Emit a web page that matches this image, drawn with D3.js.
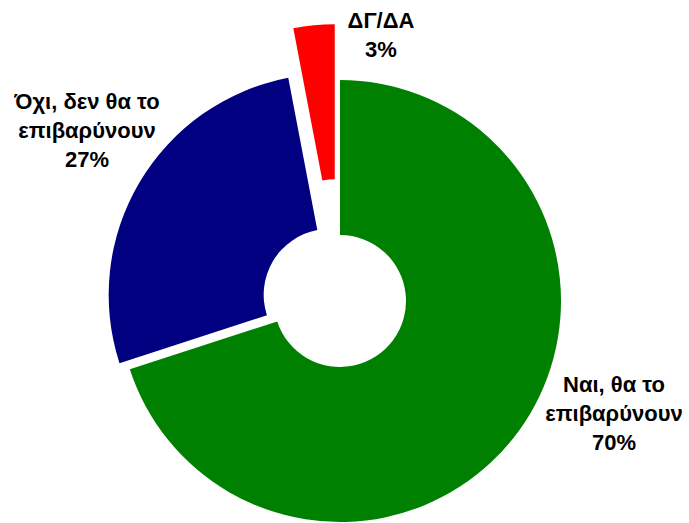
<!DOCTYPE html>
<html>
<head>
<meta charset="utf-8">
<script src="https://cdn.jsdelivr.net/npm/d3@7"></script>
<style>
  html, body { margin: 0; padding: 0; background: #fff; }
  svg { display: block; }
</style>
</head>
<body>
<svg id="chart" width="689" height="523"></svg>
<script>
// ---- data ----
const categories = ["Ναι, θα το επιβαρύνουν", "Όχι, δεν θα το επιβαρύνουν", "ΔΓ/ΔΑ"];
const labelLines = [["Ναι, θα το", "επιβαρύνουν"], ["Όχι, δεν θα το", "επιβαρύνουν"], ["ΔΓ/ΔΑ"]];
const values = [70, 27, 3];
const colors = ["#008000", "#000080", "#FF0000"];

// ---- layout (not data) ----
const W = 689, H = 523;
const cx = 340, cy = 301;
const outerR = 221, innerR = 66;
const explode = [0, 12, 56];
const labelPos = [[614, 392], [87, 109], [381, 28]];
const fontSize = 22, lineH = 29;

const svg = d3.select("#chart");
const g = svg.append("g").attr("transform", `translate(${cx},${cy})`);

const pie = d3.pie().sort(null).value(d => d).startAngle(0).endAngle(2 * Math.PI);
const arcs = pie(values);
const arc = d3.arc().innerRadius(innerR).outerRadius(outerR);

g.selectAll("path.slice")
  .data(arcs)
  .join("path")
  .attr("class", "slice")
  .attr("fill", (d, i) => colors[i])
  .attr("transform", (d, i) => {
    const a = (d.startAngle + d.endAngle) / 2;
    const dx = Math.sin(a) * explode[i];
    const dy = -Math.cos(a) * explode[i];
    return `translate(${dx},${dy})`;
  })
  .attr("d", arc);

const lbl = svg.selectAll("text.lbl")
  .data(arcs)
  .join("text")
  .attr("class", "lbl")
  .attr("text-anchor", "middle")
  .attr("font-family", "'Liberation Sans', Arial, sans-serif")
  .attr("font-weight", "bold")
  .attr("font-size", fontSize)
  .attr("fill", "#000");

lbl.each(function(d, i) {
  const t = d3.select(this);
  const lines = labelLines[i].concat([Math.round(d.value) + "%"]);
  lines.forEach((s, k) => {
    t.append("tspan")
      .attr("x", labelPos[i][0])
      .attr("y", labelPos[i][1] + k * lineH)
      .text(s);
  });
});
</script>
</body>
</html>
